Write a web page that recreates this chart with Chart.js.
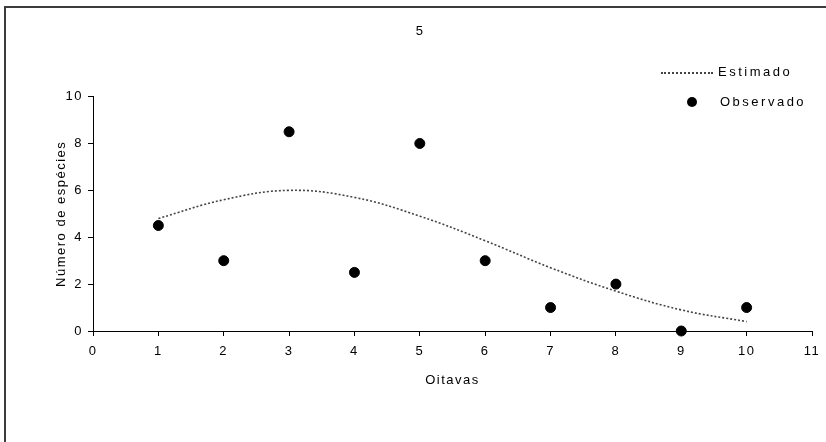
<!DOCTYPE html>
<html>
<head>
<meta charset="utf-8">
<script src="https://cdn.jsdelivr.net/npm/chart.js@4/dist/chart.umd.min.js"></script>
<style>
  html, body { margin: 0; padding: 0; background: #fff; }
  body { width: 826px; height: 442px; position: relative; overflow: hidden;
         font-family: "Liberation Sans", Arial, sans-serif; }
  .frame { position: absolute; left: 4px; top: 6px; width: 900px; height: 500px;
           border-left: 2px solid #3c3c3c; border-top: 2px solid #3c3c3c; }
  #wrap { position: absolute; left: 0; top: 0; width: 826px; height: 442px; }
  .legend { position: absolute; font-size: 13px; letter-spacing: 2.5px; color: #000; }
  .legend .row { position: absolute; white-space: nowrap; }
  .dots { position: absolute; width: 52px; border-top: 2px dotted #444; }
  .dot { position: absolute; width: 10px; height: 10px; border-radius: 50%; background: #000; }
</style>
</head>
<body>
<div class="frame"></div>
<div id="wrap"><canvas id="chart" width="826" height="442"></canvas></div>
<div class="legend">
  <div class="dots" style="left:661px; top:72px;"></div>
  <div class="row" style="left:718px; top:64px;">Estimado</div>
  <div class="dot" style="left:687px; top:97px;"></div>
  <div class="row" style="left:720px; top:94px;">Observado</div>
</div>
<script>
const octaves   = [1, 2, 3, 4, 5, 6, 7, 8, 9, 10];
const observed  = [4.5, 3, 8.5, 2.5, 8, 3, 1, 2, 0, 1];
const estimated = [4.8, 5.6, 6.0, 5.7, 4.9, 3.85, 2.7, 1.7, 0.9, 0.4];
const chartTitle = '5';
const xTitle = 'Oitavas';
const yTitle = 'Número de espécies';

const font = { family: '"Liberation Sans", Arial, sans-serif', size: 13, weight: 'normal' };
const pts = arr => octaves.map((x, i) => ({ x, y: arr[i] }));

// the reference text is widely spaced, canvas needs letterSpacing set on every pass
const spacing = {
    id: 'spacing',
    beforeUpdate: c => { c.ctx.letterSpacing = '1.5px'; },
    beforeDraw:   c => { c.ctx.letterSpacing = '1.5px'; }
};

new Chart(document.getElementById('chart'), {
    type: 'scatter',
    plugins: [spacing],
    data: {
        datasets: [
            {
                label: 'Estimado',
                data: pts(estimated),
                showLine: true,
                borderColor: '#444',
                borderWidth: 1.6,
                borderDash: [2, 2],
                tension: 0.4,
                pointRadius: 0,
                fill: false,
            },
            {
                label: 'Observado',
                data: pts(observed),
                pointStyle: 'circle',
                pointRadius: 5,
                backgroundColor: '#000',
                borderColor: '#000',
                clip: false,
            }
        ]
    },
    options: {
        responsive: false,
        animation: false,
        layout: { padding: { left: 28, right: 14, top: 0, bottom: 0 } },
        plugins: {
            legend: { display: false },
            tooltip: { enabled: false },
            title: {
                display: true, text: chartTitle, color: '#000', font,
                padding: { top: 24, bottom: 57 }
            }
        },
        scales: {
            x: {
                type: 'linear', min: 0, max: 11,
                ticks: { stepSize: 1, color: '#000', font, padding: 8, maxRotation: 0 },
                grid: { drawOnChartArea: false, tickLength: 5, tickColor: '#000' },
                border: { color: '#000', width: 1 },
                title: { display: true, text: xTitle, color: '#000', font, padding: { top: 0, bottom: 54 } },
                afterFit: s => { s.height = 111; s.paddingRight = 0; s.paddingLeft = 0; }
            },
            y: {
                min: 0, max: 10,
                ticks: { stepSize: 2, color: '#000', font, padding: 5 },
                grid: { drawOnChartArea: false, tickLength: 5, tickColor: '#000' },
                border: { color: '#000', width: 1 },
                title: { display: true, text: yTitle, color: '#000', font, padding: { top: 26, bottom: 0 } },
                afterFit: s => { s.width = 65; }
            }
        }
    }
});
</script>
</body>
</html>
